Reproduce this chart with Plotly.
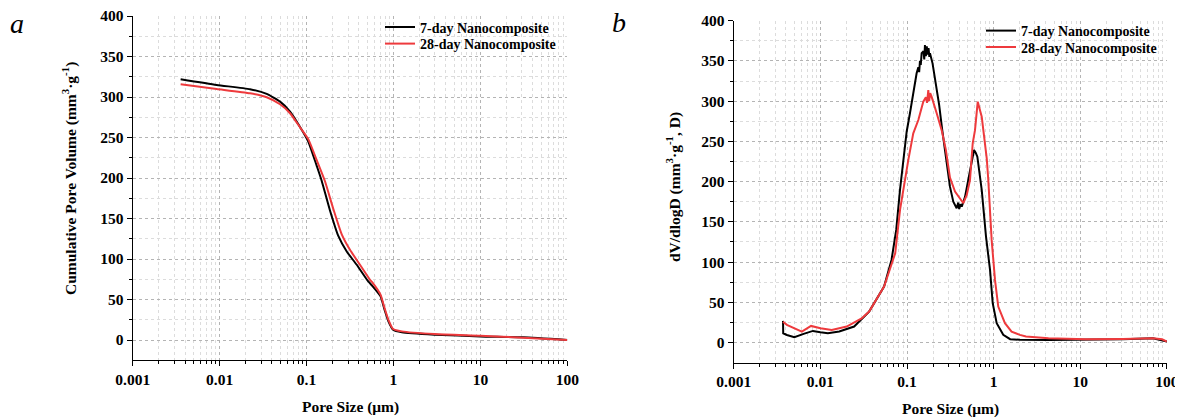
import plotly.graph_objects as go

# ---------- Panel a: cumulative pore volume ----------
size_a7 = [0.00356, 0.00925, 0.0224, 0.0348, 0.0496, 0.0646, 0.0842, 0.1047, 0.131, 0.149,
           0.186, 0.232, 0.29, 0.378, 0.513, 0.58, 0.71, 0.79, 0.875, 0.99, 1.25, 2.97, 10, 31, 100]
vol_a7 = [321.9, 314.9, 309.6, 303.8, 294.3, 282, 263, 245, 215, 197,
          160, 128.5, 109.3, 92.9, 72.3, 66, 54, 37.4, 23, 12.7, 9.5, 6.6, 4.5, 3.3, 0]
size_a28 = [0.00356, 0.00925, 0.0224, 0.0348, 0.0496, 0.0646, 0.0842, 0.1047, 0.131, 0.163,
            0.203, 0.254, 0.316, 0.412, 0.537, 0.58, 0.71, 0.79, 0.875, 0.99, 1.25, 2.97, 10, 31, 100]
vol_a28 = [315.7, 309.9, 304.6, 299.7, 291, 280, 262.5, 248, 222, 196,
           162, 130.5, 111.4, 92.9, 74.4, 70.3, 56, 39.5, 25, 13.6, 10.7, 7.4, 5.3, 2.9, 0]

# ---------- Panel b: dV/dlogD ----------
size_b7 = [0.0037, 0.00372, 0.0041, 0.005, 0.0064, 0.0082, 0.01, 0.0122, 0.0165, 0.0245, 0.0365,
           0.0543, 0.0662, 0.075, 0.083, 0.0906, 0.099, 0.108, 0.118, 0.129, 0.135, 0.138,
           0.141, 0.144, 0.1475, 0.155,
           0.158, 0.161, 0.165, 0.169, 0.173, 0.177, 0.181, 0.184, 0.197, 0.21, 0.235, 0.255,
           0.283, 0.313, 0.342, 0.374, 0.39, 0.40, 0.415, 0.428, 0.467, 0.51, 0.557, 0.593,
           0.62, 0.648, 0.728, 0.816, 0.908, 0.975, 1.084, 1.29, 1.55, 2.01, 4.3, 11.6, 31,
           69, 85, 100]
dv_b7 = [27, 11.6, 9.5, 6.6, 10.8, 14.5, 12.8, 11.6, 13.7, 19.9, 38.5,
         69.6, 102.7, 140, 190, 227, 262, 285, 310, 334.6, 342, 336,
         350, 345, 359.5, 362,
         352, 369.8, 356, 368, 358, 366, 355, 359.5, 347, 330, 295, 264,
         227, 193.8, 175, 167, 174, 166, 172, 169, 181, 202, 227, 239.4,
         236, 231, 189.7, 131.7, 90.3, 48.9, 24.1, 9.6, 4.2, 3.4, 3.3, 3.3, 4.1,
         5.4, 2.5, 1.2]
size_b28 = [0.0037, 0.0041, 0.0061, 0.0071, 0.0078, 0.01, 0.0135, 0.0201, 0.0299, 0.0365,
            0.0543, 0.073, 0.083, 0.1035, 0.118, 0.135, 0.154, 0.165, 0.17, 0.176, 0.18,
            0.185, 0.192, 0.22, 0.251, 0.28, 0.313, 0.358, 0.41, 0.447, 0.489, 0.533, 0.573,
            0.609, 0.655, 0.68, 0.728, 0.76, 0.832, 0.867, 0.948, 1.036, 1.13, 1.35, 1.61,
            2.01, 2.36, 4.3, 11.6, 31, 69, 88, 100]
dv_b28 = [26, 22, 13.7, 17.8, 20.7, 17.8, 15.7, 19.9, 30, 38.5,
          69.6, 111, 165, 227, 260, 276.6, 299.4, 305, 298, 313.9, 300,
          310, 305.6, 285, 264, 240, 205, 187.6, 179.4, 173.2, 183.5, 202, 247.7,
          264, 299.4, 292, 280.7, 264, 229, 202, 127.6, 77.9, 44.7, 24.1, 13.7,
          9.6, 7.5, 5.4, 4.1, 4.5, 5.4, 4.1, 1.2]

series_names = ["7-day Nanocomposite", "28-day Nanocomposite"]
series_colors = ["#000000", "#ee3a3d"]

x_major = [0.001, 0.01, 0.1, 1, 10, 100]
x_major_text = ["0.001", "0.01", "0.1", "1", "10", "100"]
x_minor = [k * 10 ** e for e in range(-3, 2) for k in range(2, 10)]
y_major = list(range(0, 401, 50))
y_minor = list(range(25, 400, 50))

FONT = "Liberation Serif"
W, H = 1183, 420
OFF = 8  # page body margin offset compensation


def fx(px):
    return (px - OFF) / W


def fy(py):
    return (H - (py - OFF)) / H


fig = go.Figure()
panels = [("x", "y", size_a7, vol_a7, size_a28, vol_a28, "legend", "legend2", "spline"),
          ("x2", "y2", size_b7, dv_b7, size_b28, dv_b28, "legend3", "legend4", "linear")]
for xa, ya, x7, y7, x28, y28, lg1, lg2, shp in panels:
    fig.add_trace(go.Scatter(x=x7, y=y7, mode="lines", name=series_names[0],
                             line=dict(color=series_colors[0], width=2, shape=shp, smoothing=0.5),
                             xaxis=xa, yaxis=ya, legend=lg1))
    fig.add_trace(go.Scatter(x=x28, y=y28, mode="lines", name=series_names[1],
                             line=dict(color=series_colors[1], width=2, shape=shp, smoothing=0.5),
                             xaxis=xa, yaxis=ya, legend=lg2))


def xax(domain, anchor):
    return dict(domain=domain, anchor=anchor, type="log", range=[-3, 2],
                tickmode="array", tickvals=x_major, ticktext=x_major_text,
                ticks="outside", ticklen=5, tickwidth=1, tickcolor="black",
                showline=True, linecolor="black", linewidth=1.3,
                showgrid=True, gridcolor="#b4b4b4", griddash="dot", gridwidth=1,
                minor=dict(tickmode="array", tickvals=x_minor, ticks="outside", ticklen=3,
                           tickcolor="black", tickwidth=1, showgrid=True,
                           gridcolor="#dcdcdc", griddash="dot", gridwidth=1),
                tickfont=dict(family=FONT, size=15.5, color="black", weight=700),
                ticklabeloverflow="allow",
                zeroline=False, automargin=False)


def yax(domain, anchor):
    return dict(domain=domain, anchor=anchor, range=[-25, 400],
                tickmode="array", tickvals=y_major,
                ticks="outside", ticklen=5, tickwidth=1, tickcolor="black",
                showline=True, linecolor="black", linewidth=1.3,
                showgrid=True, gridcolor="#b4b4b4", griddash="dot", gridwidth=1,
                minor=dict(tickmode="array", tickvals=y_minor, ticks="outside", ticklen=3,
                           tickcolor="black", tickwidth=1, showgrid=True,
                           gridcolor="#dcdcdc", griddash="dot", gridwidth=1),
                tickfont=dict(family=FONT, size=15.5, color="black", weight=700),
                ticklabeloverflow="allow",
                zeroline=False, automargin=False)


def leg(line_start_px, center_py):
    return dict(x=fx(line_start_px - 6), y=fy(center_py), xanchor="left", yanchor="middle",
                bgcolor="rgba(0,0,0,0)", itemwidth=30, borderwidth=0,
                font=dict(family=FONT, size=14, color="black", weight=700))


fig.update_layout(
    width=W, height=H, margin=dict(l=0, r=0, t=0, b=0, pad=0, autoexpand=False),
    paper_bgcolor="white", plot_bgcolor="white",
    xaxis=xax([fx(132.7), fx(567.3)], "y"),
    yaxis=yax([fy(360.3), fy(16)], "x"),
    xaxis2=xax([fx(733.8), fx(1166.9)], "y2"),
    yaxis2=yax([fy(362.7), fy(20.7)], "x2"),
    legend=leg(386, 27.5),
    legend2=leg(386, 44),
    legend3=leg(987, 31),
    legend4=leg(987, 47.5),
    showlegend=True,
)

ann_font = dict(family=FONT, size=15.5, color="black", weight=700)
annotations = [
    dict(text="Pore Size (μm)", x=fx(350), y=fy(407), xref="paper", yref="paper",
         showarrow=False, font=ann_font, xanchor="center", yanchor="middle"),
    dict(text="Pore Size (μm)", x=fx(950), y=fy(409), xref="paper", yref="paper",
         showarrow=False, font=ann_font, xanchor="center", yanchor="middle"),
    dict(text="Cumulative Pore Volume (mm<sup>3</sup>·g<sup>-1</sup>)", x=fx(69),
         y=fy(178), xref="paper", yref="paper", showarrow=False, textangle=-90,
         font=ann_font, xanchor="center", yanchor="middle"),
    dict(text="dV/dlogD (mm<sup>3</sup>·g<sup>-1</sup>, D)", x=fx(673),
         y=fy(187), xref="paper", yref="paper", showarrow=False, textangle=-90,
         font=ann_font, xanchor="center", yanchor="middle"),
    dict(text="<i>a</i>", x=fx(17), y=fy(24), xref="paper", yref="paper",
         showarrow=False, font=dict(family=FONT, size=28, color="black"),
         xanchor="center", yanchor="middle"),
    dict(text="<i>b</i>", x=fx(619), y=fy(23), xref="paper", yref="paper",
         showarrow=False, font=dict(family=FONT, size=28, color="black"),
         xanchor="center", yanchor="middle"),
]
fig.update_layout(annotations=annotations)

fig.write_html("out.html")
